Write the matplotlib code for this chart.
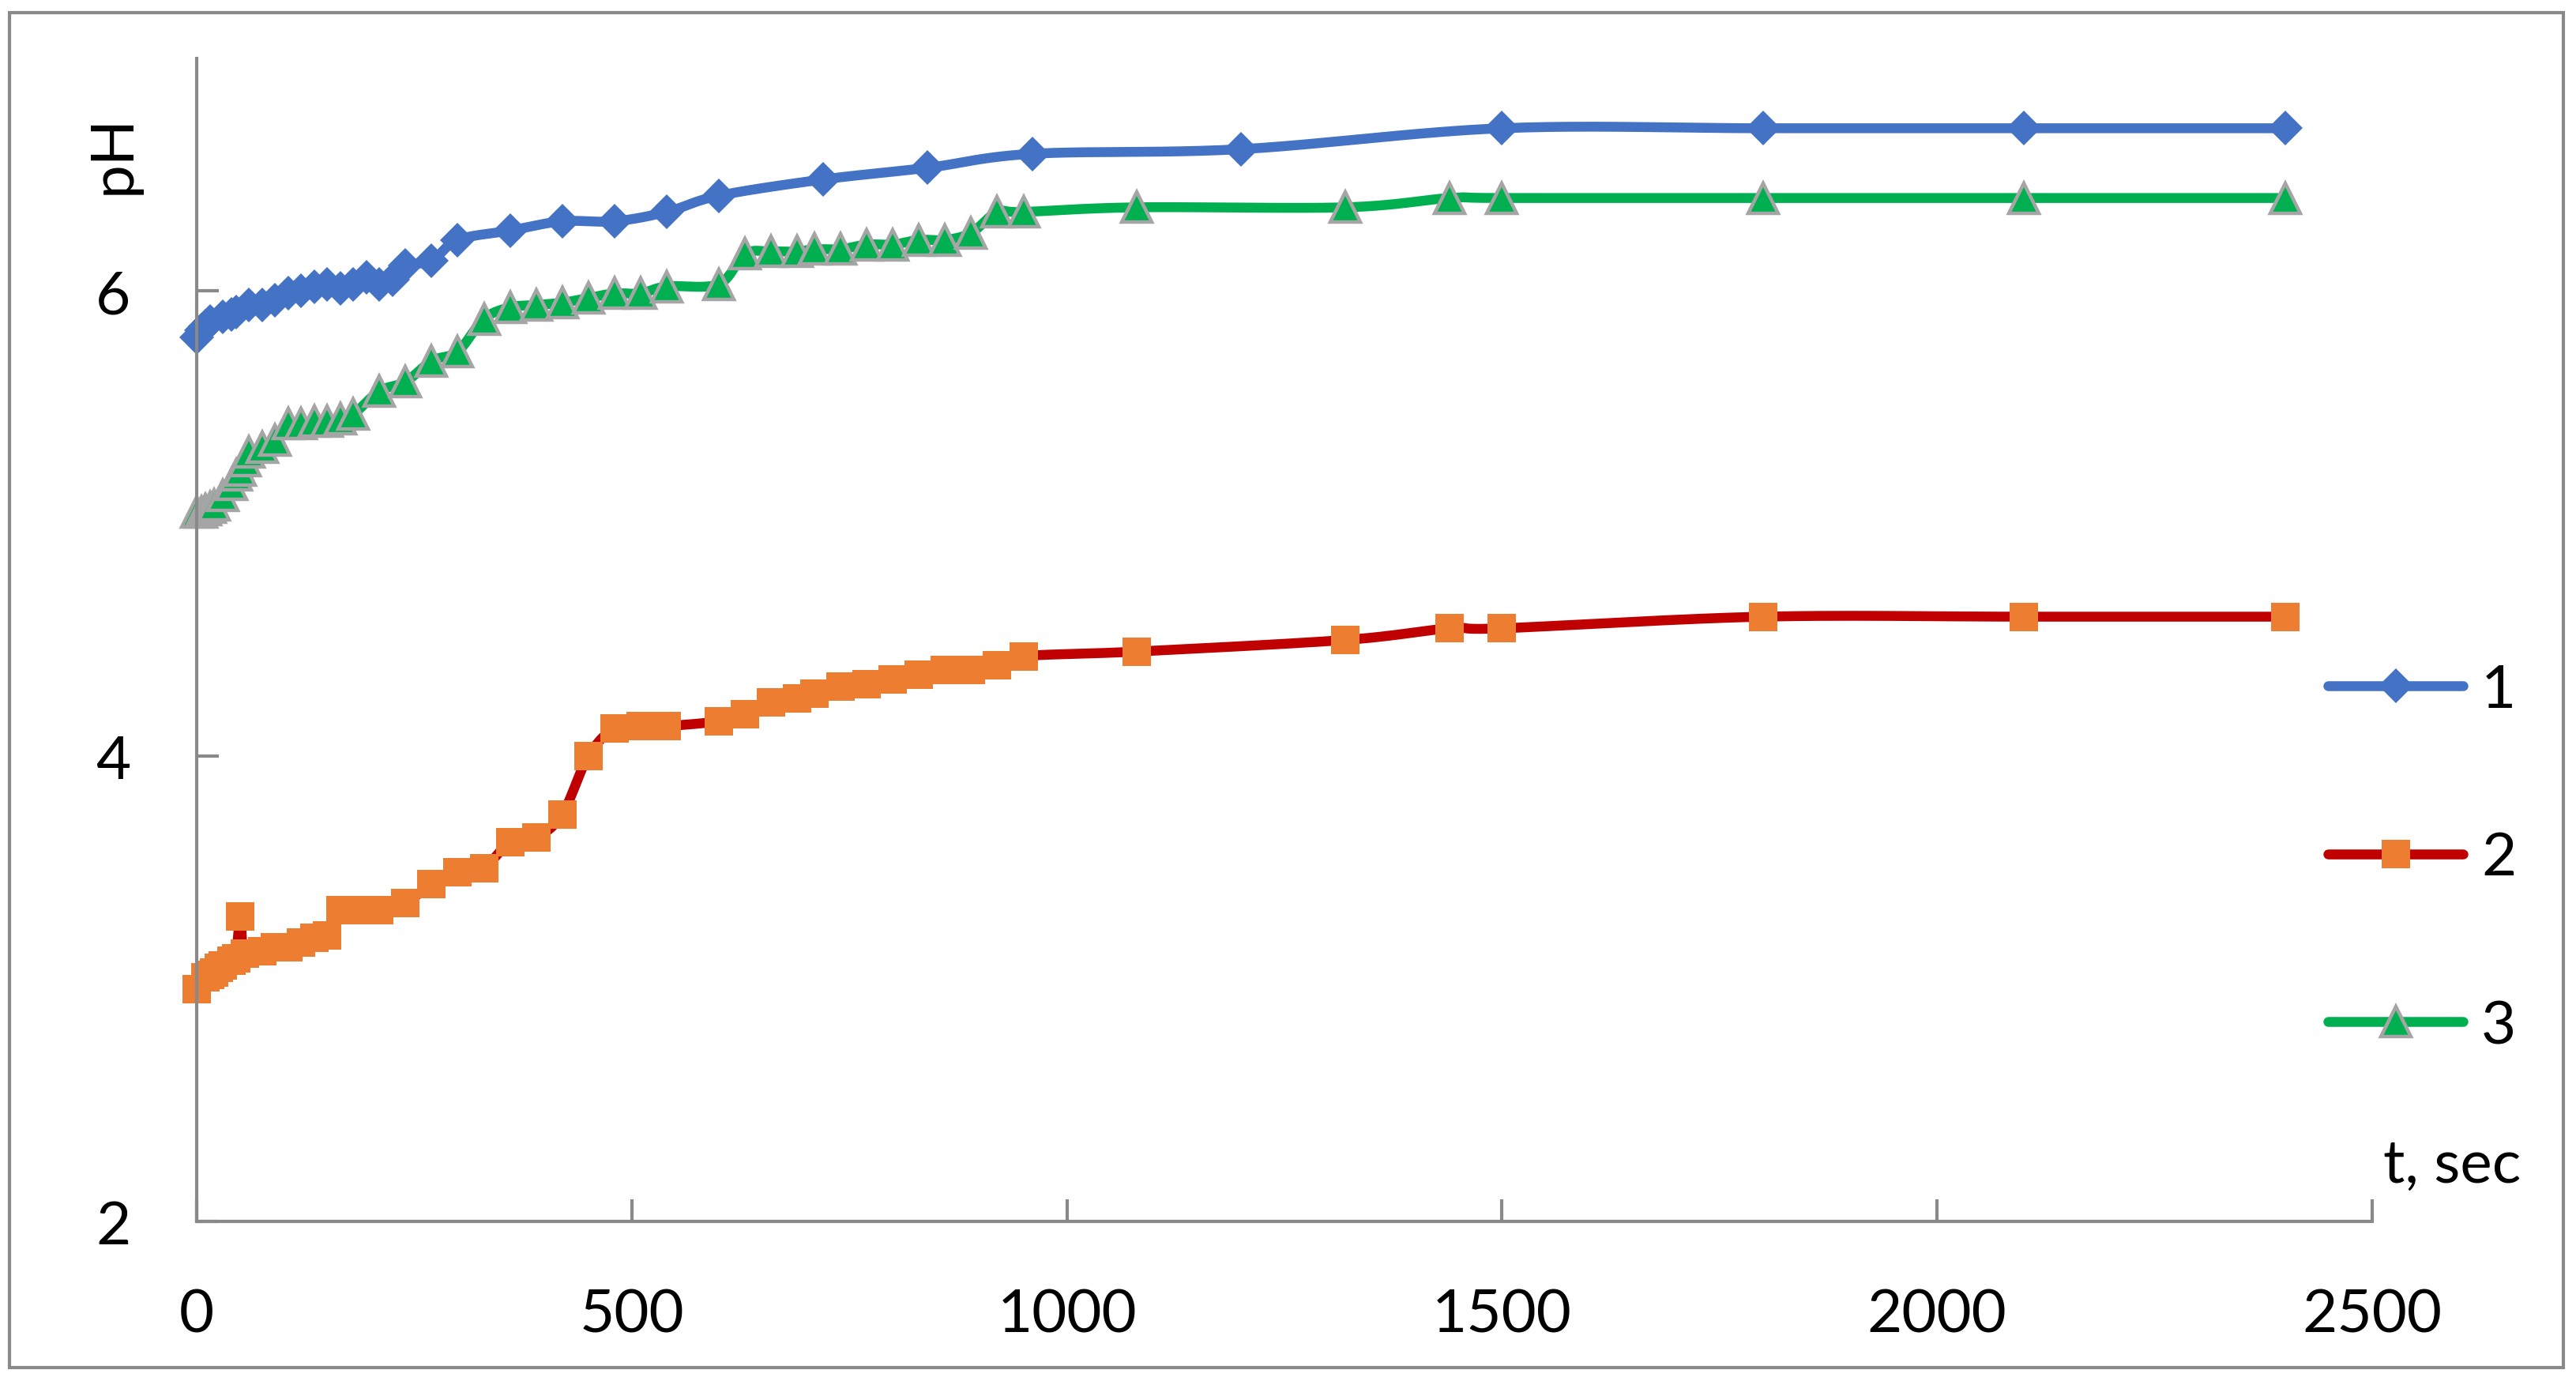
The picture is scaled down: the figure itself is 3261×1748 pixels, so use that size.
import numpy as np
import matplotlib
matplotlib.use("Agg")
import matplotlib.pyplot as plt
from matplotlib.lines import Line2D
from matplotlib.patches import Rectangle

plt.rcParams['font.family'] = ['Lato', 'DejaVu Sans']

# ---- data ----
t1 = [0, 5, 10, 15, 30, 40, 45, 60, 75, 90, 105, 120, 135, 150, 165, 180, 195, 210,
      225, 240, 270, 300, 360, 420, 480, 540, 600, 720, 840, 960, 1200, 1500, 1800,
      2100, 2400]
ph1 = [5.80, 5.83, 5.85, 5.87, 5.89, 5.90, 5.91, 5.94, 5.94, 5.96, 5.99, 6.00, 6.02,
       6.03, 6.01, 6.03, 6.06, 6.03, 6.05, 6.11, 6.13, 6.22, 6.26, 6.30, 6.30, 6.34,
       6.41, 6.48, 6.53, 6.59, 6.61, 6.70, 6.70, 6.70, 6.70]

t2 = [0, 10, 15, 20, 25, 30, 40, 45, 50, 55, 75, 90, 105, 120, 135, 150, 165, 180,
      195, 210, 240, 270, 300, 330, 360, 390, 420, 450, 480, 510, 540, 600, 630, 660,
      690, 710, 740, 770, 800, 830, 860, 890, 920, 950, 1080, 1320, 1440, 1500, 1800,
      2100, 2400]
ph2 = [3.00, 3.05, 3.06, 3.07, 3.09, 3.10, 3.12, 3.13, 3.31, 3.15, 3.16, 3.18, 3.18,
       3.20, 3.22, 3.23, 3.34, 3.34, 3.34, 3.34, 3.37, 3.45, 3.50, 3.52, 3.63, 3.65,
       3.75, 4.00, 4.12, 4.13, 4.13, 4.15, 4.18, 4.23, 4.25, 4.27, 4.30, 4.31, 4.33,
       4.35, 4.37, 4.37, 4.39, 4.43, 4.45, 4.50, 4.55, 4.55, 4.60, 4.60, 4.60]

t3 = [0, 5, 10, 15, 20, 30, 40, 45, 50, 55, 60, 75, 90, 105, 120, 135, 150, 165, 180,
      210, 240, 270, 300, 330, 360, 390, 420, 450, 480, 510, 540, 600, 630, 660, 690,
      710, 740, 770, 800, 830, 860, 890, 920, 950, 1080, 1320, 1440, 1500, 1800, 2100,
      2400]
ph3 = [5.05, 5.05, 5.06, 5.07, 5.08, 5.12, 5.17, 5.21, 5.23, 5.27, 5.31, 5.33, 5.36,
       5.43, 5.43, 5.44, 5.44, 5.45, 5.47, 5.57, 5.61, 5.70, 5.74, 5.88, 5.93, 5.94,
       5.95, 5.97, 5.99, 5.99, 6.02, 6.03, 6.16, 6.17, 6.17, 6.18, 6.18, 6.20, 6.20,
       6.22, 6.22, 6.25, 6.34, 6.34, 6.36, 6.36, 6.40, 6.40, 6.40, 6.40, 6.40]

labels = ["1", "2", "3"]
x_ticks = [0, 500, 1000, 1500, 2000, 2500]
y_ticks = [2, 4, 6]


def smooth(x, y, n=24):
    """Excel-style smoothed line: cubic Bezier segments with Catmull-Rom controls."""
    p = np.column_stack([np.asarray(x, float), np.asarray(y, float)])
    m = len(p)
    out = [p[0:1]]
    s = np.linspace(0, 1, n)[1:, None]
    for i in range(m - 1):
        p0 = p[max(i - 1, 0)]
        p1 = p[i]
        p2 = p[i + 1]
        p3 = p[min(i + 2, m - 1)]
        c1 = p1 + (p2 - p0) / 6.0
        c2 = p2 - (p3 - p1) / 6.0
        seg = ((1 - s) ** 3) * p1 + 3 * ((1 - s) ** 2) * s * c1 + 3 * (1 - s) * s ** 2 * c2 + s ** 3 * p2
        out.append(seg)
    q = np.vstack(out)
    return q[:, 0], q[:, 1]


W, H = 3262, 1749
fig = plt.figure(figsize=(W / 100, H / 100), dpi=100)
ax = fig.add_axes([249 / W, 1 - 1547 / H, (3003 - 249) / W, (1547 - 75) / H])

gray = '#898989'
LW = 9
series = [
    (t1, ph1, '#4472C4', dict(marker='D', ms=22, mfc='#4472C4', mec='#4472C4', mew=0)),
    (t2, ph2, '#C00000', dict(marker='s', ms=26, mfc='#ED7D31', mec='#ED7D31', mew=0)),
    (t3, ph3, '#00B050', dict(marker='^', ms=28, mfc='#00B050', mec='#A5A5A5', mew=3.2)),
]
handles = []
for k, (tx, py, lc, mk) in enumerate(series):
    sx, sy = smooth(tx, py)
    ax.plot(sx, sy, color=lc, lw=LW, solid_capstyle='round', solid_joinstyle='round',
            zorder=2 + 2 * k, clip_on=False)
    ax.plot(tx, py, linestyle='none', zorder=3 + 2 * k, clip_on=False, **mk)
    handles.append(Line2D([], [], color=lc, lw=LW, solid_capstyle='round', **mk))

ax.set_xlim(0, 2500)
ax.set_ylim(2, 7)
ax.set_xticks(x_ticks)
ax.set_yticks(y_ticks)
ax.set_xticklabels([str(v) for v in x_ticks])
ax.set_yticklabels([str(v) for v in y_ticks])

for side in ['top', 'right']:
    ax.spines[side].set_visible(False)
for side in ['left', 'bottom']:
    ax.spines[side].set_color(gray)
    ax.spines[side].set_linewidth(3)
    ax.spines[side].set_zorder(20)
ax.tick_params(axis='both', direction='in', length=20, width=3, color=gray,
               labelsize=55, pad=60, labelcolor='black')
ax.patch.set_alpha(0)

fig.text(143 / W, 1 - 195 / H, 'pH', rotation=90, ha='center', va='center', fontsize=55)
fig.text(3017 / W, 1 - 1497 / H, 't, sec', ha='left', va='baseline', fontsize=55)

leg = ax.legend(handles, labels, loc='center left', bbox_to_anchor=(2947 / W, 1 - 1087 / H),
                bbox_transform=fig.transFigure, frameon=False, fontsize=55, numpoints=1,
                handlelength=2.24, handletextpad=0.3, labelspacing=1.88, borderpad=0,
                borderaxespad=0)

fig.add_artist(Rectangle((12 / W, 1 - 1732 / H), (3245 - 12) / W, (1732 - 17) / H,
                         transform=fig.transFigure, fill=False, edgecolor=gray, lw=3))

fig.savefig('out.png', dpi=100)
